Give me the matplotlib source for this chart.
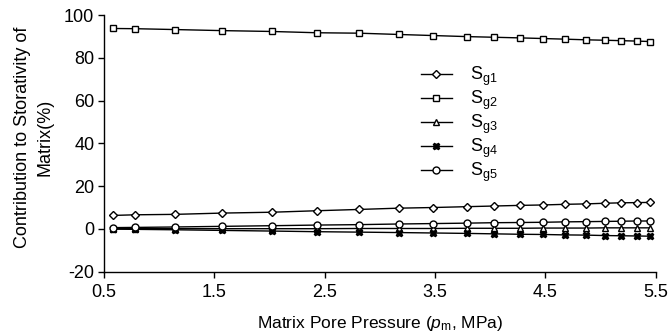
import matplotlib
matplotlib.use("Agg")
import matplotlib.pyplot as plt

plt.rcParams['font.family'] = ['Liberation Sans', 'DejaVu Sans']
plt.rcParams['mathtext.fontset'] = 'custom'
plt.rcParams['mathtext.rm'] = 'Liberation Sans'
plt.rcParams['mathtext.it'] = 'Liberation Sans:italic'
plt.rcParams['mathtext.default'] = 'regular'
plt.rcParams['axes.unicode_minus'] = False

# Matrix pore pressure (MPa)
pressure = [0.58, 0.78, 1.14, 1.57, 2.02, 2.43, 2.81, 3.17, 3.48, 3.79,
            4.03, 4.27, 4.48, 4.68, 4.87, 5.04, 5.19, 5.33, 5.45]

# Contribution of each storativity term (%)
sg1 = [6.3, 6.6, 6.8, 7.4, 7.8, 8.5, 9.1, 9.7, 10.0, 10.4,
       10.7, 11.0, 11.2, 11.5, 11.7, 12.0, 12.2, 12.3, 12.4]
sg2 = [93.7, 93.6, 93.2, 92.7, 92.3, 91.7, 91.5, 90.9, 90.4, 89.9,
       89.6, 89.3, 89.0, 88.7, 88.4, 88.2, 88.0, 87.8, 87.6]
sg3 = [0.1, 0.1, 0.1, 0.1, 0.1, 0.1, 0.2, 0.2, 0.2, 0.3,
       0.3, 0.3, 0.4, 0.4, 0.4, 0.5, 0.5, 0.5, 0.5]
sg4 = [-0.1, -0.2, -0.4, -0.7, -1.0, -1.3, -1.5, -1.7, -1.9, -2.1,
       -2.3, -2.5, -2.6, -2.8, -2.9, -3.1, -3.2, -3.3, -3.4]
sg5 = [0.6, 0.7, 0.9, 1.2, 1.5, 1.8, 2.0, 2.3, 2.5, 2.7,
       2.9, 3.0, 3.1, 3.3, 3.4, 3.5, 3.6, 3.7, 3.7]

labels = ['$S_{g1}$', '$S_{g2}$', '$S_{g3}$', '$S_{g4}$', '$S_{g5}$']
xticks = [0.5, 1.5, 2.5, 3.5, 4.5, 5.5]
yticks = [-20, 0, 20, 40, 60, 80, 100]

fig = plt.figure(figsize=(6.72, 3.33), dpi=100)
ax = fig.add_axes([104 / 672, 1 - 271.7 / 333, (655.7 - 104) / 672, (271.7 - 15) / 333])

styles = [
    dict(marker='D', markersize=3.8, markerfacecolor='white'),
    dict(marker='s', markersize=5.0, markerfacecolor='white'),
    dict(marker='^', markersize=4.6, markerfacecolor='white'),
    dict(marker='X', markersize=5.0, markerfacecolor='black'),
    dict(marker='o', markersize=5.0, markerfacecolor='white'),
]
series = [sg1, sg2, sg3, sg4, sg5]
for ys, lab, st in zip(series, labels, styles):
    ax.plot(pressure, ys, color='black', linewidth=1.0, markeredgecolor='black',
            markeredgewidth=1.0, label=lab, clip_on=False, **st)

ax.set_xlim(0.5, 5.5)
ax.set_ylim(-20, 100)
ax.set_xticks(xticks)
ax.set_xticklabels([f'{t:g}' for t in xticks])
ax.set_yticks(yticks)
for s in ['top', 'right']:
    ax.spines[s].set_visible(False)
for s in ['left', 'bottom']:
    ax.spines[s].set_linewidth(1.0)
ax.tick_params(direction='out', length=4, width=1.0, labelsize=13, pad=3)
ax.tick_params(axis='x', pad=5)

ax.set_xlabel('Matrix Pore Pressure ($\\mathit{p}_{\\mathrm{m}}$, MPa)', fontsize=12.5, labelpad=9)
ax.set_ylabel('Contribution to Storativity of\nMatrix(%)', fontsize=13, linespacing=1.4)
ax.yaxis.set_label_coords(-0.092, 0.525)

ax.legend(loc='upper left', bbox_to_anchor=(421 / 672, 1 - 65 / 333),
          bbox_transform=fig.transFigure, frameon=False, fontsize=13,
          handlelength=1.7, handletextpad=1.0, labelspacing=0.04,
          borderpad=0, borderaxespad=0)

fig.savefig('out.png', dpi=100)
